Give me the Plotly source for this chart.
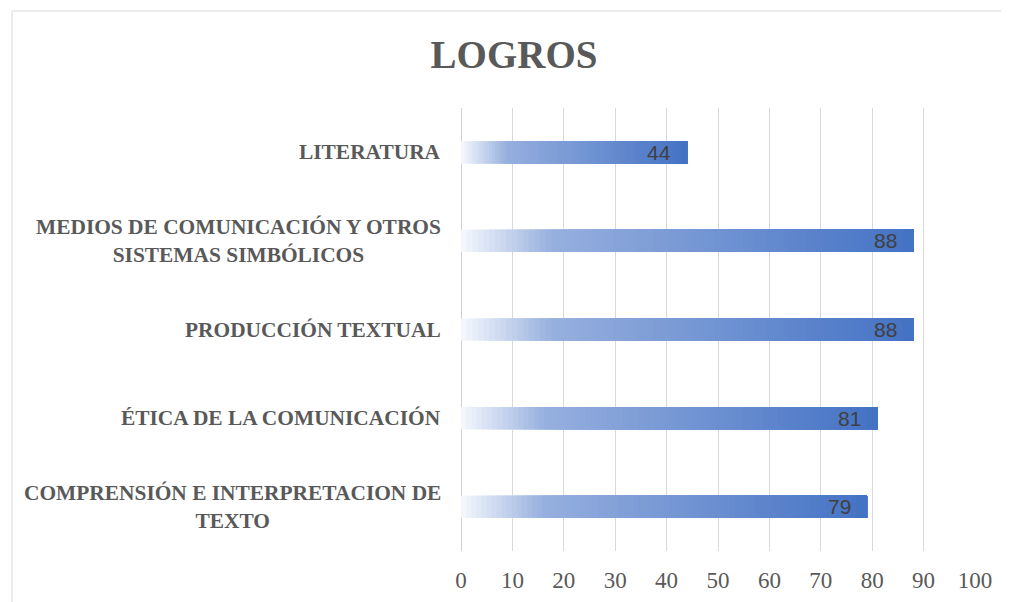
import plotly.graph_objects as go

categories = [
    "LITERATURA",
    "MEDIOS DE COMUNICACIÓN Y OTROS<br>SISTEMAS SIMBÓLICOS",
    "PRODUCCIÓN TEXTUAL",
    "ÉTICA DE LA COMUNICACIÓN",
    "COMPRENSIÓN E INTERPRETACION DE<br>TEXTO",
]
values = [44, 88, 88, 81, 79]
x_ticks = [0, 10, 20, 30, 40, 50, 60, 70, 80, 90, 100]

# gradient stops for the bar fill (fraction along bar, rgb)
grad_stops = [(0.0, (243, 246, 252)), (0.2, (150, 175, 222)), (1.0, (68, 114, 196))]
n_seg = 80


def grad_color(t):
    for (t0, c0), (t1, c1) in zip(grad_stops[:-1], grad_stops[1:]):
        if t <= t1:
            f = (t - t0) / (t1 - t0)
            return "rgb(%d,%d,%d)" % tuple(round(a + (b - a) * f) for a, b in zip(c0, c1))
    return "rgb(%d,%d,%d)" % grad_stops[-1][1]


# each segment runs from its start to the bar end; later ones paint over earlier ones
seg_y, seg_x, seg_base, seg_col = [], [], [], []
for cat, v in zip(categories, values):
    for k in range(n_seg):
        b = v * k / n_seg
        seg_y.append(cat)
        seg_base.append(b)
        seg_x.append(v - b)
        seg_col.append(grad_color(k / (n_seg - 1)))

fig = go.Figure()

fig.add_trace(go.Bar(
    y=seg_y,
    x=seg_x,
    base=seg_base,
    orientation="h",
    width=0.25,
    marker=dict(color=seg_col, line_width=0),
    hoverinfo="skip",
    showlegend=False,
))

# value labels, inside the end of each bar
for cat, v in zip(categories, values):
    fig.add_annotation(
        x=v, y=cat, xref="x", yref="y",
        xanchor="right", xshift=-14,
        text=str(v),
        showarrow=False,
        font=dict(family="Liberation Sans", size=21, color="#404040"),
    )

# category labels, centred multi-line like the original
for cat in categories:
    fig.add_annotation(
        x=0, xref="paper", y=cat, yref="y",
        xanchor="right", xshift=-18,
        text="<b>%s</b>" % cat,
        align="center",
        showarrow=False,
        font=dict(family="Liberation Serif", size=21.4, color="#595959"),
    )

# outer chart border
fig.add_shape(
    type="rect", xref="paper", yref="paper",
    x0=-0.8735, x1=1.072, y0=-0.13, y1=1.219,
    line=dict(color="#d9d9d9", width=1),
    fillcolor="rgba(0,0,0,0)",
    layer="below",
)

fig.update_layout(
    width=1001,
    height=594,
    barmode="overlay",
    plot_bgcolor="white",
    paper_bgcolor="white",
    margin=dict(l=453, r=34, t=100, b=51, autoexpand=False),
    title=dict(
        text="<b>LOGROS</b>",
        x=0.5055, xanchor="center",
        y=0.922, yanchor="middle",
        font=dict(family="Liberation Serif", size=39, color="#595959"),
    ),
    xaxis=dict(
        range=[0, 100],
        tickvals=x_ticks,
        showgrid=True,
        gridcolor="#d9d9d9",
        gridwidth=1,
        zeroline=False,
        showline=False,
        automargin=False,
        ticks="outside",
        ticklen=8,
        tickcolor="rgba(0,0,0,0)",
        tickfont=dict(family="Liberation Serif", size=23, color="#595959"),
    ),
    yaxis=dict(
        categoryorder="array",
        categoryarray=categories[::-1],
        showticklabels=False,
        showgrid=False,
        zeroline=False,
        showline=False,
        automargin=False,
    ),
)

fig.add_vline(x=0, line_color="#d0d0d0", line_width=2, layer="below")

fig.write_html("out.html")
